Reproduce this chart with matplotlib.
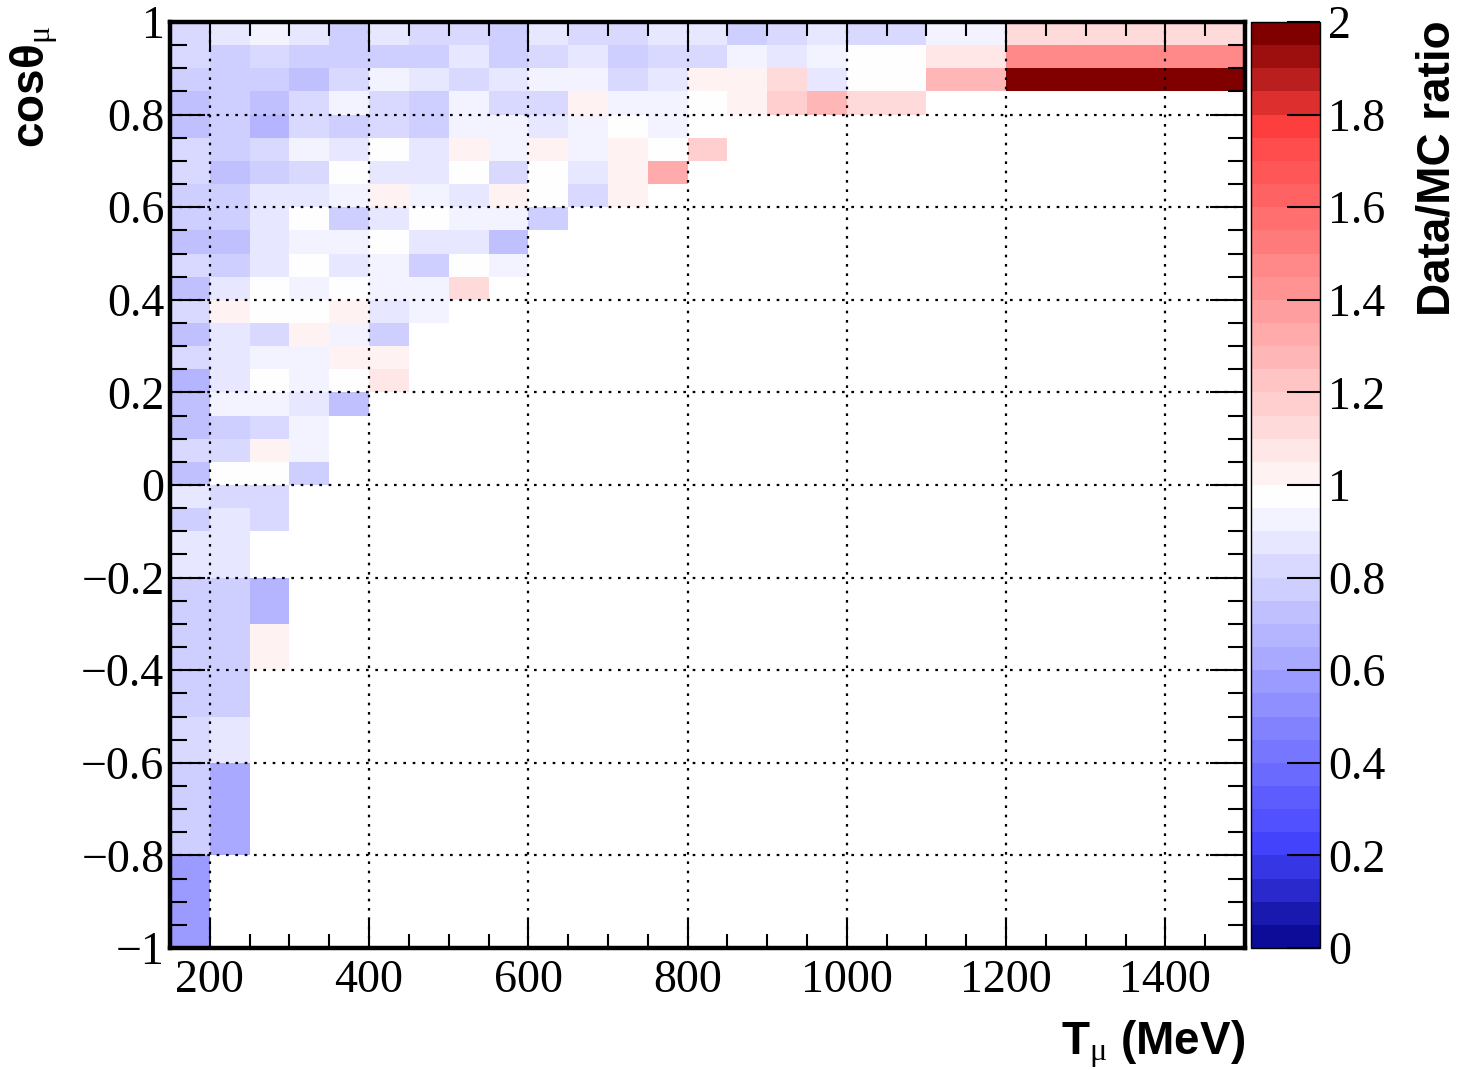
import numpy as np
import matplotlib
matplotlib.use('Agg')
import matplotlib.pyplot as plt
from matplotlib.colors import LinearSegmentedColormap, ListedColormap, BoundaryNorm
from matplotlib.ticker import MultipleLocator, FuncFormatter

plt.rcParams['mathtext.fontset'] = 'custom'
plt.rcParams['mathtext.rm'] = 'Liberation Serif'
plt.rcParams['mathtext.it'] = 'Liberation Serif:italic'
plt.rcParams['mathtext.bf'] = 'Liberation Serif:bold'

# bins: muon kinetic energy (MeV) and cos(theta), 50 MeV x 0.05
t_edges = np.arange(150, 1501, 50)
cos_edges = np.round(np.arange(-1.0, 1.0001, 0.05), 2)

# Data/MC ratio, one list per cos bin, from the top (0.95-1.0) down,
# starting at the 150-200 MeV bin; missing bins at the end are empty
ratio_rows = [
    [0.82, 0.87, 0.92, 0.87, 0.77, 0.87, 0.82, 0.82, 0.77, 0.87, 0.82, 0.82, 0.87, 0.87,
     0.77, 0.82, 0.87, 0.82, 0.82, 0.92, 0.92] + [1.12] * 6,
    [0.82, 0.77, 0.82, 0.77, 0.77, 0.77, 0.77, 0.87, 0.77, 0.82, 0.87, 0.77, 0.82, 0.82,
     0.92, 0.87, 0.92, 0.97, 0.97, 1.07, 1.07] + [1.47] * 6,
    [0.77, 0.77, 0.77, 0.72, 0.82, 0.92, 0.87, 0.82, 0.87, 0.92, 0.92, 0.82, 0.87, 1.02,
     1.02, 1.12, 0.87, 0.97, 0.97, 1.27, 1.27] + [2.10] * 6,
    [0.72, 0.77, 0.72, 0.82, 0.92, 0.82, 0.77, 0.92, 0.82, 0.82, 1.02, 0.92, 0.92, 0.97,
     1.02, 1.17, 1.27, 1.12, 1.12],
    [0.72, 0.77, 0.67, 0.82, 0.77, 0.82, 0.77, 0.92, 0.92, 0.87, 0.92, 0.97, 0.92],
    [0.82, 0.77, 0.82, 0.92, 0.87, 0.97, 0.87, 1.02, 0.92, 1.02, 0.92, 1.02, 0.97, 1.17],
    [0.82, 0.72, 0.77, 0.82, 0.97, 0.87, 0.87, 0.97, 0.82, 0.97, 0.87, 1.02, 1.32],
    [0.77, 0.77, 0.87, 0.87, 0.92, 1.02, 0.92, 0.87, 1.02, 0.97, 0.82, 1.02],
    [0.77, 0.77, 0.87, 0.97, 0.77, 0.87, 0.97, 0.92, 0.92, 0.77],
    [0.72, 0.72, 0.87, 0.92, 0.92, 0.97, 0.87, 0.87, 0.72],
    [0.82, 0.77, 0.87, 0.97, 0.87, 0.92, 0.77, 0.97, 0.92],
    [0.72, 0.87, 0.97, 0.92, 0.97, 0.92, 0.92, 1.12],
    [0.82, 1.02, 0.97, 0.97, 1.02, 0.87, 0.92],
    [0.72, 0.87, 0.82, 1.02, 0.92, 0.77],
    [0.82, 0.87, 0.92, 0.92, 1.02, 1.02],
    [0.67, 0.87, 0.97, 0.92, 0.97, 1.07],
    [0.72, 0.92, 0.92, 0.87, 0.72],
    [0.72, 0.77, 0.82, 0.92],
    [0.82, 0.82, 1.02, 0.92],
    [0.72, 0.97, 0.97, 0.77],
    [0.87, 0.82, 0.82],
    [0.77, 0.87, 0.82],
    [0.87, 0.87],
    [0.87, 0.87],
    [0.77, 0.77, 0.67],
    [0.77, 0.77, 0.67],
    [0.77, 0.77, 1.02],
    [0.77, 0.77, 1.02],
    [0.77, 0.77],
    [0.77, 0.77],
    [0.82, 0.87],
    [0.82, 0.87],
    [0.77, 0.62],
    [0.77, 0.62],
    [0.77, 0.62],
    [0.77, 0.62],
    [0.57],
    [0.57],
    [0.57],
    [0.57],
]

n_t = len(t_edges) - 1
ratio = np.full((len(ratio_rows), n_t), np.nan)
for i, row in enumerate(ratio_rows):
    ratio[i, :len(row)] = row
ratio = ratio[::-1]  # bottom row first for pcolormesh

# ROOT-like blue-white-red palette, 40 levels between 0 and 2
levels = np.linspace(0, 2, 41)
base = LinearSegmentedColormap.from_list('bwr_root', [
    (0.0, (0.047, 0.047, 0.60)),
    (0.025 / 2, (0.047, 0.047, 0.60)),
    (0.225 / 2, (0.27, 0.27, 1.0)),
    (0.975 / 2, (1.0, 1.0, 1.0)),
    (1.775 / 2, (1.0, 0.25, 0.25)),
    (1.975 / 2, (0.5, 0.0, 0.0)),
    (1.0, (0.5, 0.0, 0.0)),
])
centers = (levels[:-1] + levels[1:]) / 2
cmap = ListedColormap(base(centers / 2))
cmap.set_over((0.5, 0.0, 0.0))
cmap.set_bad((1, 1, 1, 0))
norm = BoundaryNorm(levels, cmap.N)

fig = plt.figure(figsize=(14.59, 10.70), dpi=100)
ax = fig.add_axes([170 / 1459, 1 - 948 / 1070, 1075 / 1459, 926 / 1070])
cax = fig.add_axes([1251 / 1459, 1 - 948 / 1070, 69 / 1459, 926 / 1070])

mesh = ax.pcolormesh(t_edges, cos_edges, np.ma.masked_invalid(ratio), cmap=cmap, norm=norm)

ax.set_xlim(150, 1500)
ax.set_ylim(-1, 1)

fmt = FuncFormatter(lambda v, p: f'{round(v, 2) + 0.0:g}'.replace('-', '\u2212'))

ax.xaxis.set_major_locator(MultipleLocator(200))
ax.xaxis.set_minor_locator(MultipleLocator(50))
ax.yaxis.set_major_locator(MultipleLocator(0.2))
ax.yaxis.set_minor_locator(MultipleLocator(0.05))
ax.xaxis.set_major_formatter(fmt)
ax.yaxis.set_major_formatter(fmt)

ax.tick_params(axis='both', which='both', direction='in', top=True, right=True, width=1.5, color='black')
ax.tick_params(axis='x', which='major', length=20, pad=8)
ax.tick_params(axis='x', which='minor', length=10)
ax.tick_params(axis='y', which='major', length=25, pad=4)
ax.tick_params(axis='y', which='minor', length=12)
for lab in ax.get_xticklabels() + ax.get_yticklabels():
    lab.set_fontfamily('Liberation Serif')
    lab.set_fontsize(33)

ax.grid(True, which='major', color='black', linestyle=(0, (1.2, 3)), linewidth=1.6)
ax.set_axisbelow(False)
for sp in ax.spines.values():
    sp.set_linewidth(3.2)

cb = fig.colorbar(mesh, cax=cax, ticks=np.arange(0, 2.01, 0.2))
cb.outline.set_linewidth(1.0)
cax.yaxis.set_major_formatter(fmt)
cax.tick_params(axis='y', which='major', direction='in', length=24, width=1.5, pad=6)
cax.minorticks_off()
for lab in cax.get_yticklabels():
    lab.set_fontfamily('Liberation Serif')
    lab.set_fontsize(33)

fig.text(1245 / 1459, 1 - 1055 / 1070, 'T$_{\\mathrm{\u03bc}}$ (MeV)', ha='right', va='baseline',
         fontsize=33, fontweight='bold', fontfamily='Liberation Sans')
fig.text(34 / 1459, 1 - 26 / 1070, 'cos\u03b8$_{\\mathrm{\u03bc}}$', rotation=90, ha='center', va='top',
         fontsize=33, fontweight='bold', fontfamily='Liberation Sans')
fig.text(1437 / 1459, 1 - 20 / 1070, 'Data/MC ratio', rotation=90, ha='center', va='top',
         fontsize=33, fontweight='bold', fontfamily='Liberation Sans')

fig.savefig('out.png', dpi=100)
